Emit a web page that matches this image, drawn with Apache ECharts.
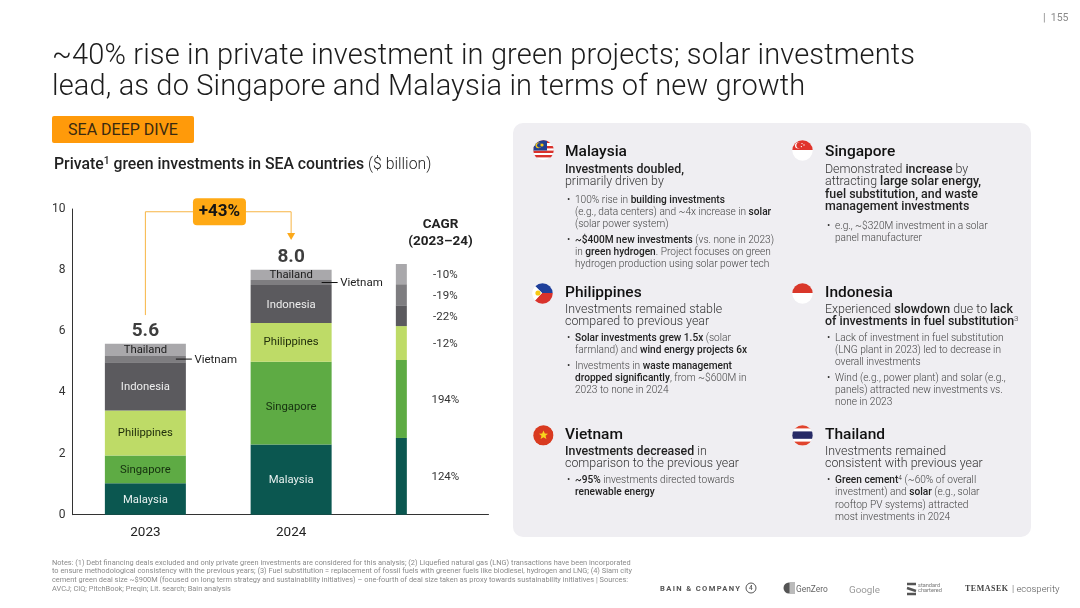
<!DOCTYPE html>
<html>
<head>
<meta charset="utf-8">
<script src="https://cdn.jsdelivr.net/npm/echarts@6/dist/echarts.min.js"></script>
<style>
html,body{margin:0;padding:0;background:#fff;}
#page{position:relative;width:1080px;height:608px;overflow:hidden;font-family:Roboto,sans-serif;color:#222;}
#chart{position:absolute;left:0;top:0;width:1080px;height:608px;}
.t{position:absolute;white-space:nowrap;transform:translateY(-50%);line-height:1;}
.title{font-size:29px;font-weight:300;color:#1c1c1c;letter-spacing:.14px;}
.h{font-size:15.5px;font-weight:500;color:#111;}
.s{font-size:12.4px;font-weight:300;color:#333;}
.s b,.b b{font-weight:500;color:#222;}
.b{font-size:10.15px;font-weight:300;color:#444;}
sup{font-size:65%;line-height:0;vertical-align:baseline;position:relative;top:-.45em;font-weight:300;}
#panel{position:absolute;left:513px;top:123px;width:518px;height:414px;background:#efeef2;border-radius:10px;}
#tag{position:absolute;left:52px;top:116px;width:142px;height:27px;background:#ff9a0a;border-radius:2px;font-size:16px;line-height:27px;text-align:center;color:#3a2a10;}
.flag{position:absolute;width:21px;height:21px;}
.note{font-size:7.4px;font-weight:400;color:#8a8a8a;}
</style>
</head>
<body>
<div id="page">
  <div id="panel"></div>
  <div id="chart"></div>
  <div id="tag">SEA DEEP DIVE</div>
  <div id="text"></div>
</div>
<script>
// ---- chart data (values in $ billion) ----
const categories = ['2023', '2024'];
const malaysia    = [1.03, 2.30];
const singapore   = [0.91, 2.70];
const philippines = [1.47, 1.27];
const indonesia   = [1.58, 1.24];
const vietnam     = [0.20, 0.17];
const thailand    = [0.40, 0.33];
const totals      = [5.6, 8.0];
const yTicks = [0, 2, 4, 6, 8, 10];

// CAGR strip: segment heights as drawn, and their labels
const cagrSlots  = ['', 'CAGR', '', '', ''];
const cagrHeights = [2.51, 2.55, 1.11, 0.68, 0.69, 0.66];
const cagrLabels  = ['124%', '194%', '-12%', '-22%', '-19%', '-10%'];

const growthLabel = '+43%';
const bracketValues = [6.53, 9.91, 9.91, 9.1];

// ---- slide text ----
const titleLines = ['~40% rise in private investment in green projects; solar investments',
                    'lead, as do Singapore and Malaysia in terms of new growth'];
const noteLines = [
 'Notes: (1) Debt financing deals excluded and only private green investments are considered for this analysis; (2) Liquefied natural gas (LNG) transactions have been incorporated',
 'to ensure methodological consistency with the previous years; (3) Fuel substitution = replacement of fossil fuels with greener fuels like biodiesel, hydrogen and LNG; (4) Siam city',
 'cement green deal size ~$900M (focused on long term strategy and sustainability initiatives) – one-fourth of deal size taken as proxy towards sustainability initiatives | Sources:',
 'AVCJ; CIQ; PitchBook; Preqin; Lit. search; Bain analysis'
];
const cards = [
 {x:565, y:152, name:'Malaysia', subY:[169,181], sub:['<b>Investments doubled,</b>','primarily driven by'],
  bullets:[[200,'100% rise in <b>building investments</b>',1],[212,'(e.g., data centers) and ~4x increase in <b>solar</b>'],[224,'(solar power system)'],
           [240,'<b>~$400M new investments</b> (vs. none in 2023)',1],[252,'in <b>green hydrogen</b>. Project focuses on green'],[264,'hydrogen production using solar power tech']]},
 {x:825, y:152, name:'Singapore', subY:[169,181,194,206], sub:['Demonstrated <b>increase</b> by','attracting <b>large solar energy,</b>','<b>fuel substitution, and waste</b>','<b>management investments</b>'],
  bullets:[[226,'e.g., ~$320M investment in a solar',1],[238,'panel manufacturer']]},
 {x:565, y:293, name:'Philippines', subY:[309,321], sub:['Investments remained stable','compared to previous year'],
  bullets:[[338,'<b>Solar investments grew 1.5x</b> (solar',1],[350,'farmland) and <b>wind energy projects 6x</b>'],
           [366,'Investments in <b>waste management</b>',1],[378,'<b>dropped significantly</b>, from ~$600M in'],[390,'2023 to none in 2024']]},
 {x:825, y:293, name:'Indonesia', subY:[309,321], sub:['Experienced <b>slowdown</b> due to <b>lack</b>','<b>of investments in fuel substitution</b><sup>3</sup>'],
  bullets:[[338,'Lack of investment in fuel substitution',1],[350,'(LNG plant in 2023) led to decrease in'],[362,'overall investments'],
           [378,'Wind (e.g., power plant) and solar (e.g.,',1],[390,'panels) attracted new investments vs.'],[402,'none in 2023']]},
 {x:565, y:435, name:'Vietnam', subY:[451,463], sub:['<b>Investments decreased</b> in','comparison to the previous year'],
  bullets:[[480,'<b>~95%</b> investments directed towards',1],[492,'<b>renewable energy</b>']]},
 {x:825, y:435, name:'Thailand', subY:[451,463], sub:['Investments remained','consistent with previous year'],
  bullets:[[480,'<b>Green cement<sup>4</sup></b> (~60% of overall',1],[492,'investment) and <b>solar</b> (e.g., solar'],[505,'rooftop PV systems) attracted'],[517,'most investments in 2024']]}
];
const flags = {
 Malaysia:'<circle cx="10" cy="10" r="10" fill="#fff"/><g fill="#d9322c"><rect y="0" width="21" height="3"/><rect y="6" width="21" height="2.4"/><rect y="10.6" width="21" height="2.4"/><rect y="15" width="21" height="2.4"/></g><path d="M0 0h14v10.4H0z" fill="#1f3f8f"/><circle cx="5.4" cy="5.3" r="2.9" fill="#f7c815"/><circle cx="6.4" cy="5.3" r="2.4" fill="#1f3f8f"/><circle cx="9" cy="5" r="1.6" fill="#f7c815"/>',
 Singapore:'<rect width="21" height="10" fill="#e0342c"/><rect y="10" width="21" height="11" fill="#fff"/><circle cx="6" cy="5.4" r="3" fill="#fff"/><circle cx="7.2" cy="5.4" r="2.8" fill="#e0342c"/><circle cx="10" cy="3.6" r=".7" fill="#fff"/><circle cx="12" cy="5" r=".7" fill="#fff"/><circle cx="9.4" cy="6.6" r=".7" fill="#fff"/>',
 Philippines:'<circle cx="10" cy="10" r="10" fill="#fff"/><path d="M0 0h21v10H10z" fill="#1f3f9a"/><path d="M0 21h21V10H10L0 21z" fill="#d9322c"/><path d="M0 0l10 10L0 20z" fill="#fff"/><circle cx="6" cy="10" r="2.6" fill="#f7c815"/>',
 Indonesia:'<rect width="21" height="10" fill="#d9372a"/><rect y="10" width="21" height="11" fill="#fff"/>',
 Vietnam:'<circle cx="10" cy="10" r="10.5" fill="#d93a20"/><path d="M10.5 5.6l1.3 3 3.2.2-2.5 2 .9 3.2-2.9-1.8-2.9 1.8.9-3.2-2.5-2 3.2-.2z" fill="#f7d51d"/>',
 Thailand:'<rect width="21" height="21" fill="#fff"/><rect y="0" width="21" height="3.4" fill="#e0442e"/><rect y="6.4" width="21" height="7.4" fill="#262a66"/><rect y="16.6" width="21" height="4" fill="#e0442e"/>'
};
const flagPos = {Malaysia:[533,140],Singapore:[792,140],Philippines:[532,283],Indonesia:[792,283],Vietnam:[533,425],Thailand:[792,425]};

// ---- slide text layout ----
function put(x, y, cls, html, extra) {
  return '<div class="t ' + cls + '" style="left:' + x + 'px;top:' + y + 'px;' + (extra || '') + '">' + html + '</div>';
}
let html = '';
html += put(52, 54, 'title', titleLines[0]);
html += put(52, 85, 'title', titleLines[1]);
html += put(1043, 18, '', '|&nbsp; 155', 'font-size:10.5px;color:#8a8a8a;');
html += put(54, 164, '', '<span style="font-weight:500">Private<sup style="font-weight:500">1</sup> green investments in SEA countries</span> <span style="font-weight:300">($ billion)</span>', 'font-size:15.8px;color:#222;');
html += put(440.5, 224, '', 'CAGR', 'transform:translate(-50%,-50%);font-size:13.5px;font-weight:700;');
html += put(440.5, 240.5, '', '(2023–24)', 'transform:translate(-50%,-50%);font-size:13.5px;font-weight:700;');
cards.forEach(c => {
  const p = flagPos[c.name];
  html += '<svg class="flag" viewBox="0 0 21 21" style="left:' + p[0] + 'px;top:' + p[1] + 'px"><defs><clipPath id="c' + c.name + '"><circle cx="10.5" cy="10.5" r="10.2"/></clipPath></defs><g clip-path="url(#c' + c.name + ')">' + flags[c.name] + '</g></svg>';
  html += put(c.x, c.y, 'h', c.name);
  c.sub.forEach((s, i) => { html += put(c.x, c.subY[i], 's', s); });
  c.bullets.forEach(b => {
    if (b[2]) html += put(c.x + 2, b[0], 'b', '•', 'color:#333;');
    html += put(c.x + 10, b[0], 'b', b[1]);
  });
});
noteLines.forEach((n, i) => { html += put(52, 562.5 + i * 8.8, 'note', n); });
// partner marks
html += put(660, 588.5, '', 'BAIN &amp; COMPANY', 'font-size:7.6px;font-weight:700;letter-spacing:1.35px;color:#555;');
html += '<svg style="position:absolute;left:745px;top:582px" width="12" height="12"><circle cx="6" cy="6" r="5" fill="none" stroke="#555" stroke-width="1"/></svg>';
html += put(749, 588, '', '4', 'font-size:6.5px;font-weight:500;color:#555;');
html += '<svg style="position:absolute;left:783px;top:582px" width="12" height="12"><circle cx="6" cy="6" r="5.5" fill="#555"/><rect x="6.5" y="0" width="6" height="12" fill="#bbb"/></svg>';
html += put(796, 588.5, '', 'GenZero', 'font-size:8.4px;color:#666;');
html += put(849, 589.5, '', 'Google', 'font-size:9.8px;color:#9a9a9a;');
html += '<svg style="position:absolute;left:906px;top:582px" width="11" height="14"><path d="M1 2h9M1 6l9 3M1 12h9" stroke="#555" stroke-width="2.4" fill="none"/></svg>';
html += put(918, 586, '', 'standard', 'font-size:5.6px;color:#777;');
html += put(918, 591, '', 'chartered', 'font-size:5.6px;color:#777;');
html += put(965, 589, '', 'TEMASEK', 'font-family:\'Liberation Serif\',serif;font-size:8px;font-weight:700;letter-spacing:.5px;color:#444;');
html += put(1012, 589, '', '| ecosperity', 'font-size:9.5px;font-weight:300;color:#555;');
document.getElementById('text').innerHTML = html;

// ---- chart ----
const FONT = 'Roboto, sans-serif';
const stackSeries = [
  {name:'Malaysia',    data:malaysia,    color:'#0b5750', text:'#e8f0ef', nudge:[1,1]},
  {name:'Singapore',   data:singapore,   color:'#5eab44', text:'#15300f', nudge:[1,4]},
  {name:'Philippines', data:philippines, color:'#bedb67', text:'#22300c', nudge:[0,0]},
  {name:'Indonesia',   data:indonesia,   color:'#5b5a5e', text:'#eeeeee', nudge:[1,1]},
  {name:'Vietnam',     data:vietnam,     color:'#7e7d80', text:null,      nudge:[0,0]},
  {name:'Thailand',    data:thailand,    color:'#a9a8ab', text:'#1c1c1c', nudge:[0,0]}
];
const series = stackSeries.map(s => ({
  type:'bar', name:s.name, stack:'invest', xAxisIndex:0, yAxisIndex:0, barWidth:81,
  data:s.data.map((v, i) => ({value:v, label:{offset:[0, s.nudge[i]]}})), itemStyle:{color:s.color}, silent:true,
  label:{show:!!s.text, position:'inside', formatter:s.name, color:s.text, fontSize:11.3, fontFamily:FONT}
}));
stackSeries.forEach((s, i) => {
  const d = cagrSlots.map(c => c ? cagrHeights[i] : null);
  series.push({
    type:'bar', name:s.name + ' CAGR', stack:'cagr', xAxisIndex:1, yAxisIndex:1, barWidth:11,
    data:d, itemStyle:{color:s.color}, silent:true,
    label:{show:true, position:'inside', offset:[44,1], formatter:cagrLabels[i], color:'#333', fontSize:11.5, fontFamily:FONT}
  });
});
// totals above the bars
series.push({
  type:'scatter', xAxisIndex:0, yAxisIndex:0, symbolSize:0, silent:true,
  data:categories.map((c, i) => [c, totals[i]]),
  label:{show:true, position:'top', distance:3, formatter:p => p.value[1].toFixed(1), color:'#0c0c0c', fontSize:19, fontWeight:700, fontFamily:FONT}
});
// growth bracket with arrow head
series.push({
  type:'line', xAxisIndex:0, yAxisIndex:0, silent:true, z:5,
  data:[
    {value:[categories[0], bracketValues[0]], symbol:'none'},
    {value:[categories[0], bracketValues[1]], symbol:'none'},
    {value:[categories[1], bracketValues[2]], symbol:'none'},
    {value:[categories[1], bracketValues[3]], symbol:'triangle', symbolSize:[8,7], symbolRotate:180}
  ],
  lineStyle:{color:'#f7b544', width:1}, itemStyle:{color:'#fca91a'}
});
// +43% badge between the two bars
series.push({
  type:'custom', xAxisIndex:0, yAxisIndex:0, silent:true, z:6, clip:false,
  data:[[0, bracketValues[1]]],
  renderItem:(params, api) => {
    const a = api.coord([0, api.value(1)]), b = api.coord([1, api.value(1)]);
    const cx = (a[0] + b[0]) / 2 + 1.2, cy = a[1];
    return {type:'group', children:[
      {type:'rect', shape:{x:cx-26.5, y:cy-13.5, width:53, height:27, r:4}, style:{fill:'#ffa914'}},
      {type:'text', style:{text:growthLabel, x:cx, y:cy, align:'center', verticalAlign:'middle', fontSize:17, fontWeight:700, fontFamily:FONT, fill:'#141414'}}
    ]};
  }
});
// Vietnam call-outs
const stackBelow = i => malaysia[i] + singapore[i] + philippines[i] + indonesia[i];
series.push({
  type:'custom', xAxisIndex:0, yAxisIndex:0, silent:true, z:6, clip:false,
  data:categories.map((c, i) => [i, stackBelow(i) + vietnam[i] / 2]),
  renderItem:(params, api) => {
    const p = api.coord([api.value(0), api.value(1)]);
    const x0 = p[0] + 30.5;
    return {type:'group', children:[
      {type:'line', shape:{x1:x0, y1:p[1], x2:x0+16, y2:p[1]}, style:{stroke:'#111', lineWidth:1}},
      {type:'text', style:{text:'Vietnam', x:x0+18.5, y:p[1]+1, align:'left', verticalAlign:'middle', fontSize:11.5, fontFamily:FONT, fill:'#222'}}
    ]};
  }
});

const chart = echarts.init(document.getElementById('chart'));
chart.setOption({
  animation:false,
  backgroundColor:'transparent',
  grid:[
    {left:72.5, width:291.5, top:209, height:305.7},
    {left:364, width:124.5, top:209, height:305.7}
  ],
  xAxis:[
    {type:'category', gridIndex:0, data:categories, axisTick:{show:false},
     axisLine:{lineStyle:{color:'#333', width:1}},
     axisLabel:{color:'#222', fontSize:13.5, fontFamily:FONT, margin:11}},
    {type:'category', gridIndex:1, data:cagrSlots, axisTick:{show:false},
     axisLine:{lineStyle:{color:'#333', width:1}}, axisLabel:{show:false}}
  ],
  yAxis:[
    {type:'value', gridIndex:0, min:yTicks[0], max:yTicks[yTicks.length-1], interval:2, splitLine:{show:false},
     axisTick:{show:false}, axisLine:{show:true, lineStyle:{color:'#333', width:1}},
     axisLabel:{color:'#333', fontSize:12, fontFamily:FONT, margin:7}},
    {type:'value', gridIndex:1, min:0, max:10, interval:2, show:false, splitLine:{show:false}}
  ],
  series:series
});
</script>
</body>
</html>
